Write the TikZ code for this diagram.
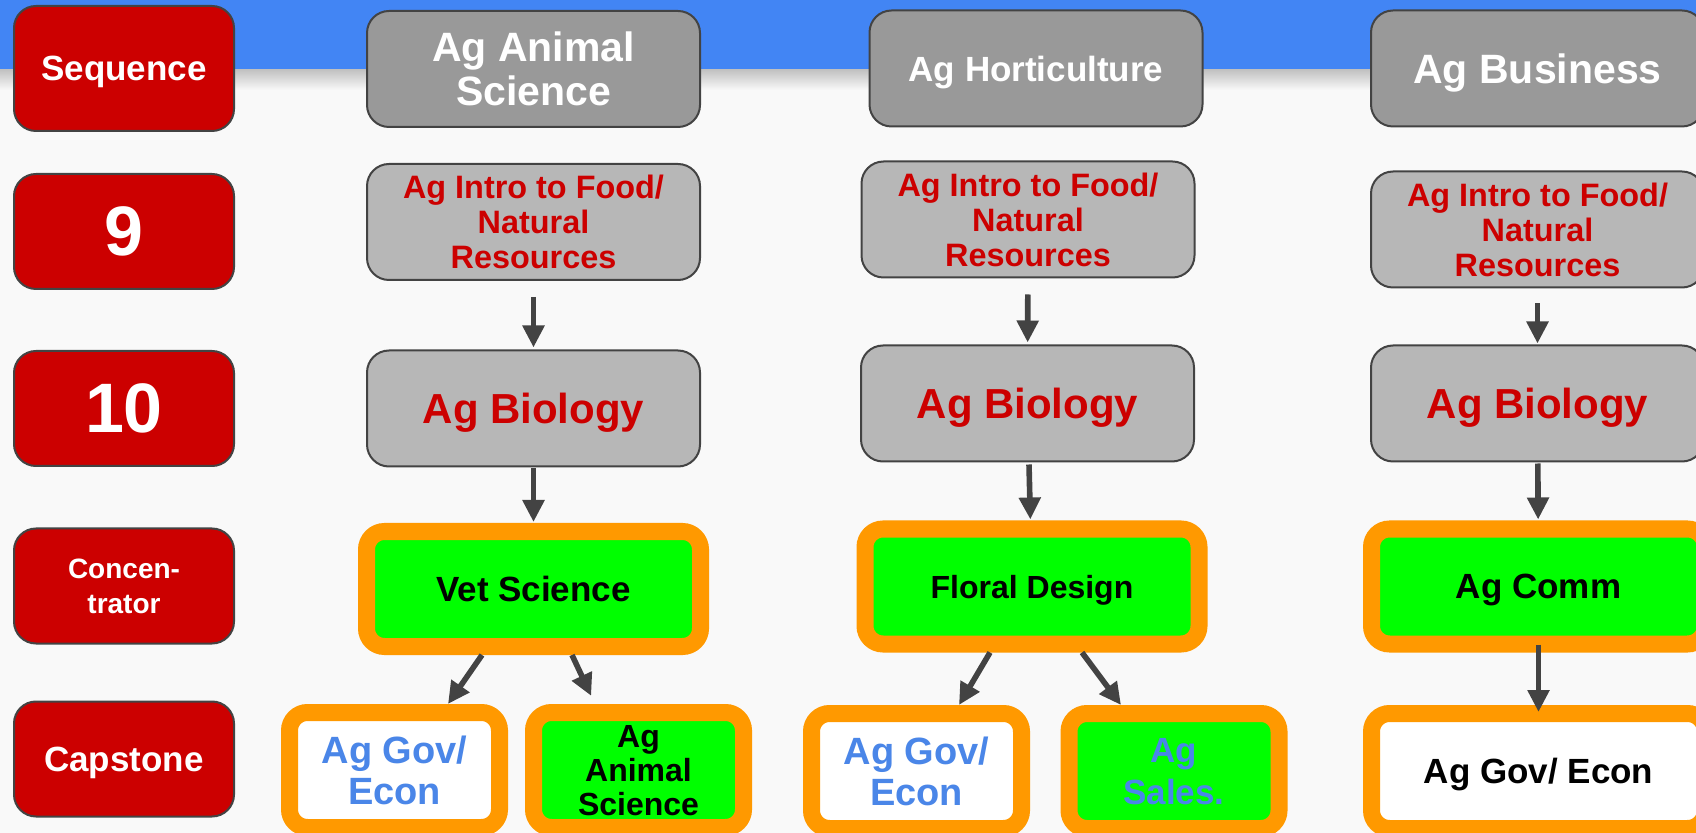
\documentclass[tikz,border=0pt]{standalone}
\usepackage{fontspec}
\setmainfont{Liberation Sans}
\usetikzlibrary{arrows.meta}

\definecolor{band}{HTML}{4285F4}
\definecolor{paper}{HTML}{F9F9F9}
\definecolor{seqred}{HTML}{CC0000}
\definecolor{edge}{HTML}{434343}
\definecolor{headgray}{HTML}{999999}
\definecolor{boxgray}{HTML}{B7B7B7}
\definecolor{concgreen}{HTML}{00FF00}
\definecolor{ring}{HTML}{FF9900}
\definecolor{linkblue}{HTML}{4A86E8}

\newcommand{\fs}[2]{\fontsize{#1}{#2}\selectfont\bfseries}

\begin{document}
\begin{tikzpicture}[x=0.5pt,y=-0.5pt,
    seqbox/.style={draw=edge,line width=1pt,fill=seqred,rounded corners=11pt,text=white,
      minimum width=110pt,minimum height=57.5pt,inner sep=0pt,text depth=0pt,align=center},
    headbox/.style={seqbox,fill=headgray,minimum width=166.5pt,minimum height=58pt},
    coursebox/.style={headbox,fill=boxgray,text=seqred},
    ringbox/.style={draw=ring,line width=8.5pt,rounded corners=9pt,fill=concgreen,text=black,
      minimum width=167pt,minimum height=57.5pt,inner sep=0pt,text depth=0pt,align=center},
    capbox/.style={ringbox,minimum width=105pt},
    flow/.style={draw=edge,line width=2.8pt,-{Triangle[length=11pt,width=10.5pt]}}]
    \clip (0,0) rectangle (1696,833);
    \fill[paper] (0,0) rectangle (1696,833);
    \fill[band] (0,0) rectangle (1696,70);
    \shade[top color=black!22!paper,bottom color=paper] (0,70) rectangle (1696,90);

    % years down the left side
    \node[seqbox,minimum height=62.5pt,font=\fs{17.5}{20}] (seq) at (124,68.5) {Sequence};
    \foreach \y/\nm/\sz/\txt in {231.5/nine/35/9, 408.5/ten/35/10,
        586/conc/14/{Concen-\\trator}, 759/cap/17.5/Capstone}
      \node[seqbox,font=\fs{\sz}{17.5}] (\nm) at (124,\y) {\txt};

    % pathway headings
    \node[headbox,font=\fs{20.5}{22}] (head1) at (533.5,69) {Ag Animal\\Science};
    \node[headbox,font=\fs{17.5}{20}] (head2) at (1036,68.5) {Ag Horticulture};
    \node[headbox,font=\fs{20.5}{22}] (head3) at (1537.5,68.5) {Ag Business};

    \node[coursebox,font=\fs{16.2}{17.5}] (intro1) at (533.5,222) {Ag Intro to Food/\\Natural\\Resources};
    \node[coursebox,font=\fs{16.2}{17.5}] (intro2) at (1028,219.5) {Ag Intro to Food/\\Natural\\Resources};
    \node[coursebox,font=\fs{16.2}{17.5}] (intro3) at (1537.5,229.5) {Ag Intro to Food/\\Natural\\Resources};

    \node[coursebox,font=\fs{21}{24}] (bio1) at (533.5,408.5) {Ag Biology};
    \node[coursebox,font=\fs{21}{24}] (bio2) at (1027.5,403.5) {Ag Biology};
    \node[coursebox,font=\fs{21}{24}] (bio3) at (1537.5,403.5) {Ag Biology};

    \node[ringbox,font=\fs{17.5}{20}] (vet) at (533.5,589) {Vet Science};
    \node[ringbox,font=\fs{16}{20}] (floral) at (1032,586.5) {Floral Design};
    \node[ringbox,font=\fs{17.5}{20}] (comm) at (1538.5,586.5) {Ag Comm};

    % capstones
    \node[capbox,fill=white,text=linkblue,font=\fs{19}{20.5}] (gov1) at (394.5,770) {Ag Gov/\\Econ};
    \node[capbox,font=\fs{16}{17}] (anim1) at (638.5,770) {Ag\\Animal\\Science};
    \node[capbox,fill=white,text=linkblue,font=\fs{19}{20.5}] (gov2) at (916.5,771) {Ag Gov/\\Econ};
    \node[capbox,text=linkblue,font=\fs{17.5}{21}] (sales) at (1174,771) {Ag\\Sales.};
    \node[ringbox,fill=white,font=\fs{17.5}{20}] (gov3) at (1538.5,771) {Ag Gov/ Econ};

    \draw[flow,shorten <=8pt,shorten >=1pt] (intro1) -- (bio1);
    \draw[flow,shorten <=8pt,shorten >=1pt] (intro2) -- (bio2);
    \draw[flow,shorten <=7.5pt,shorten >=0.5pt] (intro3) -- (bio3);
    \draw[flow,shorten <=0.5pt,shorten >=0.5pt] (bio1) -- (vet);
    \draw[flow,shorten <=1pt,shorten >=0.5pt] (bio2) -- (floral);
    \draw[flow,shorten <=0.5pt,shorten >=0.5pt] (bio3) -- (comm);
    \draw[flow,shorten <=-4pt,shorten >=-3.5pt] (comm) -- (gov3);

    \draw[flow] ([xshift=-25.75pt]vet.south) -- ([xshift=26.75pt]gov1.north);
    \draw[flow,shorten >=4.5pt] ([xshift=19.25pt]vet.south) -- ([xshift=-21.75pt]anim1.north);
    \draw[flow] ([xshift=-21pt]floral.south) -- ([xshift=21.25pt]gov2.north);
    \draw[flow] ([xshift=25pt]floral.south) -- ([xshift=-26.5pt]sales.north);
\end{tikzpicture}
\end{document}
